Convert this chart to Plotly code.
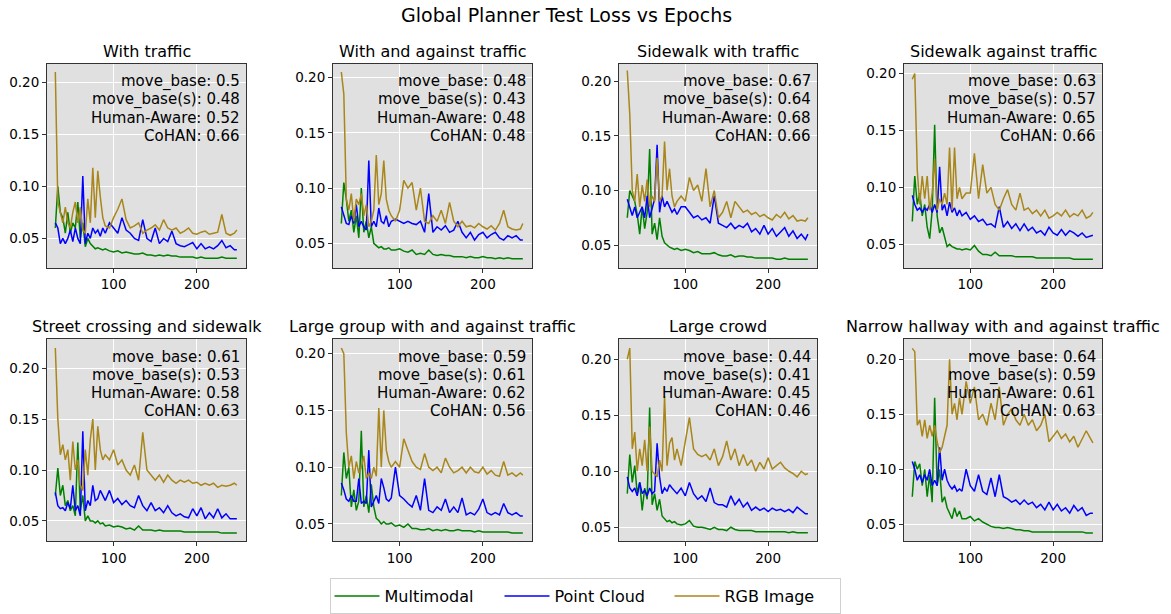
import plotly.graph_objects as go

W, H = 1171, 614

epochs = [30, 33, 36, 39, 42, 45, 48, 51, 54, 57, 60, 63, 66, 69, 72, 75, 78, 81, 84, 87, 90,
          95, 100, 105, 110, 115, 120, 125, 130, 135, 140, 145, 150, 155, 160, 165, 170, 175,
          180, 185, 190, 195, 200, 205, 210, 215, 220, 225, 230, 235, 240, 245, 248]

titles = ["With traffic", "With and against traffic", "Sidewalk with traffic", "Sidewalk against traffic",
          "Street crossing and sidewalk", "Large group with and against traffic", "Large crowd",
          "Narrow hallway with and against traffic"]

move_base = [0.5, 0.48, 0.67, 0.63, 0.61, 0.59, 0.44, 0.64]
move_base_s = [0.48, 0.43, 0.64, 0.57, 0.53, 0.61, 0.41, 0.59]
human_aware = [0.52, 0.48, 0.68, 0.65, 0.58, 0.62, 0.45, 0.61]
cohan = [0.66, 0.48, 0.66, 0.66, 0.63, 0.56, 0.46, 0.63]

# 1 With traffic
mm_1 = [0.06, 0.10, 0.075, 0.07, 0.055, 0.075, 0.055, 0.065, 0.06, 0.085, 0.05, 0.065, 0.042, 0.05, 0.045, 0.042, 0.04, 0.041, 0.04, 0.039, 0.04,
        0.038, 0.037, 0.038, 0.036, 0.037, 0.036, 0.035, 0.035, 0.036, 0.034, 0.034, 0.033, 0.034, 0.033, 0.034, 0.033, 0.033, 0.032, 0.032, 0.032, 0.032, 0.031, 0.032, 0.031, 0.031, 0.031, 0.031, 0.032, 0.031, 0.031, 0.031, 0.031]
pc_1 = [0.065, 0.06, 0.045, 0.05, 0.045, 0.05, 0.058, 0.047, 0.06, 0.05, 0.045, 0.11, 0.045, 0.055, 0.05, 0.06, 0.055, 0.058, 0.052, 0.06, 0.055,
        0.065, 0.06, 0.055, 0.07, 0.058, 0.055, 0.05, 0.048, 0.068, 0.05, 0.047, 0.06, 0.045, 0.05, 0.047, 0.057, 0.045, 0.043, 0.042, 0.044, 0.046, 0.04, 0.045, 0.04, 0.042, 0.04, 0.043, 0.048, 0.041, 0.043, 0.039, 0.039]
rgb_1 = [0.21, 0.085, 0.075, 0.065, 0.08, 0.065, 0.06, 0.075, 0.085, 0.065, 0.08, 0.058, 0.055, 0.088, 0.065, 0.118, 0.07, 0.115, 0.09, 0.07, 0.062,
         0.06, 0.07, 0.078, 0.088, 0.068, 0.06, 0.062, 0.065, 0.055, 0.058, 0.06, 0.063, 0.058, 0.068, 0.06, 0.058, 0.06, 0.055, 0.057, 0.06, 0.055, 0.054, 0.056, 0.057, 0.054, 0.055, 0.056, 0.073, 0.055, 0.053, 0.055, 0.058]

# 2 With and against traffic
mm_2 = [0.068, 0.105, 0.09, 0.07, 0.08, 0.06, 0.075, 0.055, 0.1, 0.06, 0.07, 0.055, 0.065, 0.05, 0.048, 0.046, 0.047, 0.045, 0.045, 0.046, 0.044,
        0.044, 0.045, 0.043, 0.042, 0.044, 0.04, 0.041, 0.04, 0.044, 0.04, 0.039, 0.04, 0.039, 0.039, 0.038, 0.038, 0.038, 0.037, 0.038, 0.037, 0.037, 0.038, 0.037, 0.037, 0.036, 0.037, 0.036, 0.037, 0.036, 0.036, 0.036, 0.036]
pc_2 = [0.083, 0.075, 0.068, 0.067, 0.075, 0.068, 0.085, 0.065, 0.07, 0.065, 0.062, 0.125, 0.065, 0.07, 0.065, 0.082, 0.07, 0.068, 0.075, 0.065, 0.07,
        0.072, 0.07, 0.068, 0.07, 0.068, 0.067, 0.07, 0.06, 0.095, 0.06, 0.065, 0.062, 0.066, 0.06, 0.062, 0.07, 0.06, 0.055, 0.06, 0.053, 0.058, 0.06, 0.055, 0.058, 0.06, 0.055, 0.053, 0.057, 0.055, 0.057, 0.053, 0.053]
rgb_2 = [0.205, 0.185, 0.09, 0.08, 0.095, 0.07, 0.09, 0.085, 0.095, 0.075, 0.085, 0.065, 0.07, 0.08, 0.13, 0.085, 0.095, 0.125, 0.09, 0.08, 0.075,
         0.07, 0.08, 0.107, 0.1, 0.105, 0.08, 0.1, 0.07, 0.068, 0.075, 0.07, 0.08, 0.068, 0.087, 0.07, 0.065, 0.07, 0.065, 0.066, 0.064, 0.068, 0.065, 0.063, 0.066, 0.062, 0.068, 0.08, 0.065, 0.063, 0.062, 0.063, 0.068]

# 3 Sidewalk with traffic
mm_3 = [0.075, 0.1, 0.095, 0.09, 0.078, 0.06, 0.085, 0.065, 0.08, 0.138, 0.06, 0.07, 0.055, 0.075, 0.058, 0.052, 0.05, 0.048, 0.047, 0.046, 0.047,
        0.045, 0.046, 0.045, 0.043, 0.044, 0.042, 0.042, 0.042, 0.043, 0.041, 0.04, 0.04, 0.041, 0.039, 0.04, 0.04, 0.039, 0.039, 0.038, 0.038, 0.038, 0.038, 0.038, 0.037, 0.037, 0.038, 0.037, 0.037, 0.037, 0.037, 0.037, 0.037]
pc_3 = [0.092, 0.085, 0.077, 0.085, 0.075, 0.08, 0.085, 0.075, 0.095, 0.075, 0.085, 0.092, 0.142, 0.08, 0.095, 0.085, 0.09, 0.085, 0.08, 0.083, 0.078,
        0.085, 0.085, 0.08, 0.075, 0.077, 0.073, 0.075, 0.07, 0.095, 0.07, 0.068, 0.066, 0.07, 0.065, 0.068, 0.066, 0.07, 0.062, 0.065, 0.06, 0.068, 0.06, 0.065, 0.058, 0.062, 0.066, 0.058, 0.063, 0.056, 0.06, 0.055, 0.06]
rgb_3 = [0.21, 0.17, 0.1, 0.09, 0.115, 0.085, 0.105, 0.09, 0.11, 0.085, 0.095, 0.09, 0.13, 0.09, 0.095, 0.145, 0.1, 0.12, 0.095, 0.085, 0.09,
         0.095, 0.09, 0.112, 0.1, 0.105, 0.09, 0.12, 0.085, 0.1, 0.075, 0.08, 0.09, 0.075, 0.09, 0.085, 0.08, 0.082, 0.078, 0.08, 0.076, 0.078, 0.075, 0.073, 0.078, 0.075, 0.08, 0.074, 0.077, 0.072, 0.073, 0.072, 0.075]

# 4 Sidewalk against traffic
mm_4 = [0.07, 0.11, 0.085, 0.095, 0.075, 0.085, 0.065, 0.055, 0.08, 0.155, 0.075, 0.06, 0.065, 0.055, 0.048, 0.05, 0.048, 0.047, 0.046, 0.046, 0.045,
        0.046, 0.045, 0.049, 0.044, 0.041, 0.041, 0.04, 0.043, 0.04, 0.04, 0.04, 0.04, 0.039, 0.039, 0.039, 0.039, 0.039, 0.038, 0.038, 0.038, 0.038, 0.038, 0.038, 0.038, 0.038, 0.038, 0.037, 0.037, 0.037, 0.037, 0.037, 0.037]
pc_4 = [0.093, 0.085, 0.08, 0.082, 0.078, 0.082, 0.08, 0.085, 0.078, 0.085, 0.078, 0.118, 0.08, 0.085, 0.075, 0.087, 0.078, 0.082, 0.075, 0.08, 0.075,
        0.078, 0.072, 0.075, 0.07, 0.072, 0.067, 0.068, 0.065, 0.083, 0.065, 0.07, 0.064, 0.068, 0.062, 0.068, 0.062, 0.065, 0.06, 0.062, 0.058, 0.065, 0.06, 0.058, 0.063, 0.058, 0.062, 0.06, 0.057, 0.06, 0.056, 0.057, 0.058]
rgb_4 = [0.195, 0.2, 0.115, 0.085, 0.11, 0.09, 0.11, 0.08, 0.095, 0.125, 0.08, 0.09, 0.085, 0.095, 0.085, 0.135, 0.08, 0.135, 0.09, 0.1, 0.09,
         0.095, 0.095, 0.13, 0.09, 0.12, 0.095, 0.1, 0.085, 0.08, 0.09, 0.098, 0.085, 0.08, 0.095, 0.08, 0.082, 0.077, 0.08, 0.075, 0.08, 0.073, 0.075, 0.078, 0.075, 0.08, 0.074, 0.077, 0.075, 0.08, 0.073, 0.075, 0.078]

# 5 Street crossing and sidewalk
mm_5 = [0.075, 0.102, 0.075, 0.085, 0.065, 0.07, 0.06, 0.065, 0.055, 0.127, 0.06, 0.075, 0.05, 0.055, 0.05, 0.05, 0.048, 0.05, 0.047, 0.048, 0.045,
        0.046, 0.044, 0.045, 0.044, 0.042, 0.043, 0.041, 0.045, 0.041, 0.041, 0.041, 0.04, 0.041, 0.04, 0.04, 0.04, 0.04, 0.04, 0.039, 0.039, 0.039, 0.039, 0.039, 0.039, 0.039, 0.039, 0.039, 0.038, 0.038, 0.038, 0.038, 0.038]
pc_5 = [0.078, 0.065, 0.062, 0.063, 0.06, 0.068, 0.062, 0.085, 0.06, 0.065, 0.055, 0.138, 0.06, 0.07, 0.065, 0.085, 0.07, 0.072, 0.08, 0.075, 0.07,
        0.08, 0.068, 0.072, 0.066, 0.07, 0.065, 0.063, 0.075, 0.065, 0.06, 0.068, 0.06, 0.063, 0.058, 0.065, 0.058, 0.055, 0.057, 0.054, 0.053, 0.062, 0.055, 0.063, 0.052, 0.058, 0.053, 0.062, 0.053, 0.057, 0.052, 0.052, 0.052]
rgb_5 = [0.22, 0.15, 0.115, 0.125, 0.11, 0.12, 0.09, 0.128, 0.1, 0.11, 0.085, 0.08, 0.12, 0.095, 0.13, 0.15, 0.1, 0.143, 0.12, 0.11, 0.115,
         0.11, 0.12, 0.105, 0.11, 0.1, 0.095, 0.105, 0.09, 0.137, 0.1, 0.095, 0.09, 0.095, 0.088, 0.095, 0.09, 0.087, 0.09, 0.088, 0.09, 0.087, 0.088, 0.085, 0.087, 0.085, 0.087, 0.083, 0.085, 0.084, 0.085, 0.087, 0.085]

# 6 Large group with and against traffic
mm_6 = [0.075, 0.113, 0.09, 0.1, 0.065, 0.08, 0.062, 0.07, 0.132, 0.065, 0.075, 0.06, 0.085, 0.065, 0.055, 0.053, 0.05, 0.052, 0.05, 0.05, 0.051,
        0.048, 0.049, 0.047, 0.05, 0.046, 0.046, 0.045, 0.045, 0.046, 0.044, 0.045, 0.044, 0.045, 0.044, 0.044, 0.045, 0.044, 0.044, 0.044, 0.043, 0.044, 0.043, 0.043, 0.043, 0.043, 0.043, 0.043, 0.043, 0.042, 0.042, 0.042, 0.042]
pc_6 = [0.086, 0.08, 0.072, 0.07, 0.075, 0.07, 0.07, 0.09, 0.068, 0.07, 0.068, 0.115, 0.065, 0.07, 0.075, 0.068, 0.09, 0.082, 0.072, 0.07, 0.073,
        0.1, 0.075, 0.072, 0.068, 0.065, 0.075, 0.062, 0.09, 0.062, 0.06, 0.065, 0.062, 0.072, 0.06, 0.065, 0.06, 0.073, 0.058, 0.06, 0.058, 0.063, 0.072, 0.06, 0.058, 0.06, 0.058, 0.068, 0.06, 0.058, 0.06, 0.057, 0.057]
rgb_6 = [0.205, 0.2, 0.13, 0.1, 0.11, 0.09, 0.105, 0.095, 0.1, 0.11, 0.09, 0.095, 0.09, 0.1, 0.092, 0.152, 0.1, 0.15, 0.115, 0.105, 0.1,
         0.105, 0.1, 0.125, 0.115, 0.105, 0.1, 0.098, 0.112, 0.1, 0.097, 0.1, 0.095, 0.108, 0.1, 0.095, 0.097, 0.1, 0.095, 0.1, 0.096, 0.095, 0.1, 0.094, 0.097, 0.093, 0.092, 0.105, 0.093, 0.095, 0.092, 0.095, 0.093]

# 7 Large crowd
mm_7 = [0.08, 0.115, 0.09, 0.105, 0.08, 0.09, 0.065, 0.085, 0.075, 0.157, 0.07, 0.08, 0.065, 0.075, 0.06, 0.057, 0.055, 0.056, 0.054, 0.055, 0.053,
        0.052, 0.053, 0.056, 0.051, 0.05, 0.05, 0.049, 0.048, 0.05, 0.048, 0.048, 0.047, 0.05, 0.048, 0.047, 0.047, 0.047, 0.047, 0.046, 0.046, 0.046, 0.046, 0.046, 0.046, 0.046, 0.046, 0.045, 0.046, 0.045, 0.045, 0.045, 0.045]
pc_7 = [0.095, 0.085, 0.082, 0.085, 0.078, 0.09, 0.08, 0.083, 0.078, 0.085, 0.08, 0.082, 0.125, 0.095, 0.08, 0.085, 0.082, 0.088, 0.085, 0.082, 0.08,
        0.085, 0.078, 0.09, 0.08, 0.075, 0.078, 0.073, 0.085, 0.072, 0.07, 0.07, 0.068, 0.078, 0.07, 0.075, 0.068, 0.072, 0.065, 0.068, 0.065, 0.067, 0.064, 0.067, 0.065, 0.066, 0.064, 0.066, 0.063, 0.068, 0.065, 0.062, 0.062]
rgb_7 = [0.2, 0.21, 0.12, 0.135, 0.1, 0.12, 0.105, 0.128, 0.1, 0.14, 0.1, 0.097, 0.095, 0.11, 0.1, 0.167, 0.105, 0.125, 0.13, 0.11, 0.12,
         0.105, 0.128, 0.148, 0.12, 0.115, 0.113, 0.115, 0.11, 0.12, 0.105, 0.113, 0.127, 0.11, 0.12, 0.105, 0.115, 0.105, 0.11, 0.1, 0.108, 0.102, 0.112, 0.102, 0.105, 0.108, 0.103, 0.1, 0.098, 0.095, 0.1, 0.097, 0.098]

# 8 Narrow hallway with and against traffic
mm_8 = [0.075, 0.107, 0.1, 0.105, 0.085, 0.1, 0.075, 0.095, 0.07, 0.165, 0.085, 0.1, 0.07, 0.075, 0.065, 0.06, 0.055, 0.065, 0.057, 0.062, 0.055,
        0.055, 0.057, 0.053, 0.055, 0.052, 0.05, 0.048, 0.047, 0.047, 0.046, 0.047, 0.046, 0.045, 0.045, 0.044, 0.044, 0.043, 0.043, 0.043, 0.043, 0.043, 0.043, 0.043, 0.043, 0.043, 0.043, 0.043, 0.043, 0.043, 0.042, 0.042, 0.042]
pc_8 = [0.107, 0.1, 0.09, 0.095, 0.088, 0.095, 0.09, 0.1, 0.085, 0.09, 0.085, 0.12, 0.09, 0.1, 0.09, 0.085, 0.082, 0.085, 0.08, 0.082, 0.08,
        0.1, 0.085, 0.08, 0.095, 0.08, 0.077, 0.092, 0.075, 0.095, 0.075, 0.073, 0.07, 0.072, 0.068, 0.072, 0.068, 0.07, 0.065, 0.068, 0.063, 0.07, 0.063, 0.068, 0.062, 0.065, 0.06, 0.067, 0.062, 0.065, 0.058, 0.06, 0.06]
rgb_8 = [0.21, 0.207, 0.14, 0.145, 0.13, 0.145, 0.128, 0.14, 0.13, 0.14, 0.125, 0.115, 0.12, 0.13, 0.14, 0.2, 0.15, 0.16, 0.145, 0.165, 0.15,
         0.18, 0.16, 0.175, 0.145, 0.15, 0.14, 0.16, 0.145, 0.175, 0.14, 0.15, 0.155, 0.145, 0.14, 0.15, 0.14, 0.145, 0.135, 0.14, 0.15, 0.125, 0.13, 0.135, 0.128, 0.132, 0.125, 0.13, 0.12, 0.128, 0.135, 0.128, 0.124]

multimodal = [mm_1, mm_2, mm_3, mm_4, mm_5, mm_6, mm_7, mm_8]
point_cloud = [pc_1, pc_2, pc_3, pc_4, pc_5, pc_6, pc_7, pc_8]
rgb_image = [rgb_1, rgb_2, rgb_3, rgb_4, rgb_5, rgb_6, rgb_7, rgb_8]

y_ranges = [(0.0213, 0.2182), (0.0275, 0.2126), (0.0287, 0.2164), (0.029, 0.2087),
            (0.0298, 0.229), (0.0346, 0.2131), (0.0373, 0.2183), (0.0343, 0.2187)]

col_px = [(47, 246), (333, 532), (619, 817), (904, 1102)]
row_px = [(64, 270), (341, 545)]

series_names = ["Multimodal", "Point Cloud", "RGB Image"]
series_colors = ["#008000", "#0000ff", "#a8861a"]
FONT = "DejaVu Sans"

fig = go.Figure()
annotations = []
layout_axes = {}

for i in range(8):
    r, c = divmod(i, 4)
    k = i + 1
    xs = "" if k == 1 else str(k)
    x0, x1 = col_px[c]
    y0, y1 = row_px[r]
    for name, color, data in zip(series_names, series_colors,
                                 [multimodal[i], point_cloud[i], rgb_image[i]]):
        fig.add_trace(go.Scatter(x=epochs, y=data, mode="lines", name=name,
                                 line=dict(color=color, width=1.5),
                                 xaxis="x" + xs, yaxis="y" + xs,
                                 legendgroup=name, showlegend=(k == 1)))
    common = dict(showline=True, mirror=True, linecolor="#333333", linewidth=1,
                  ticks="outside", ticklen=4, tickcolor="#333333", tickwidth=1,
                  showgrid=True, gridcolor="white", gridwidth=1, zeroline=False,
                  automargin=False,
                  tickfont=dict(family=FONT, size=13.5, color="black"))
    layout_axes["xaxis" + xs] = dict(domain=[x0 / W, x1 / W], range=[20, 259],
                                     tickvals=[100, 200], anchor="y" + xs, **common)
    layout_axes["yaxis" + xs] = dict(domain=[1 - y1 / H, 1 - y0 / H], range=list(y_ranges[i]),
                                     tickvals=[0.05, 0.10, 0.15, 0.20],
                                     ticktext=["0.05", "0.10", "0.15", "0.20"],
                                     anchor="x" + xs, **common)
    annotations.append(dict(text=titles[i], x=(x0 + x1) / 2 / W, y=1 - (y0 - 12.5) / H,
                            xref="paper", yref="paper", xanchor="center", yanchor="middle",
                            showarrow=False, font=dict(family=FONT, size=16, color="black")))
    lines = [f"move_base: {move_base[i]:g}", f"move_base(s): {move_base_s[i]:g}",
             f"Human-Aware: {human_aware[i]:g}", f"CoHAN: {cohan[i]:g}"]
    for j, t in enumerate(lines):
        annotations.append(dict(text=t, x=(x1 - 4) / W, y=1 - (y0 + 18.5 + 18 * j) / H,
                                xref="paper", yref="paper", xanchor="right", yanchor="middle",
                                showarrow=False, font=dict(family=FONT, size=15, color="black")))

annotations.append(dict(text="Global Planner Test Loss vs Epochs", x=566 / W, y=1 - 15 / H,
                        xref="paper", yref="paper", xanchor="center", yanchor="middle",
                        showarrow=False, font=dict(family=FONT, size=19, color="black")))

fig.update_layout(
    width=W, height=H, margin=dict(l=0, r=0, t=0, b=0),
    paper_bgcolor="white", plot_bgcolor="#e0e0e0",
    font=dict(family=FONT, color="black"),
    annotations=annotations,
    legend=dict(orientation="h", x=585 / W, xanchor="center", y=1 - 582 / H, yanchor="top",
                bordercolor="#d0d0d0", borderwidth=1, bgcolor="white",
                font=dict(family=FONT, size=16, color="black"),
                itemwidth=45, entrywidth=110, entrywidthmode="pixels"),
    **layout_axes,
)

fig.write_html("out.html", config={"displayModeBar": False},
               post_script="document.body.style.margin='0px';document.body.style.overflow='hidden';")
